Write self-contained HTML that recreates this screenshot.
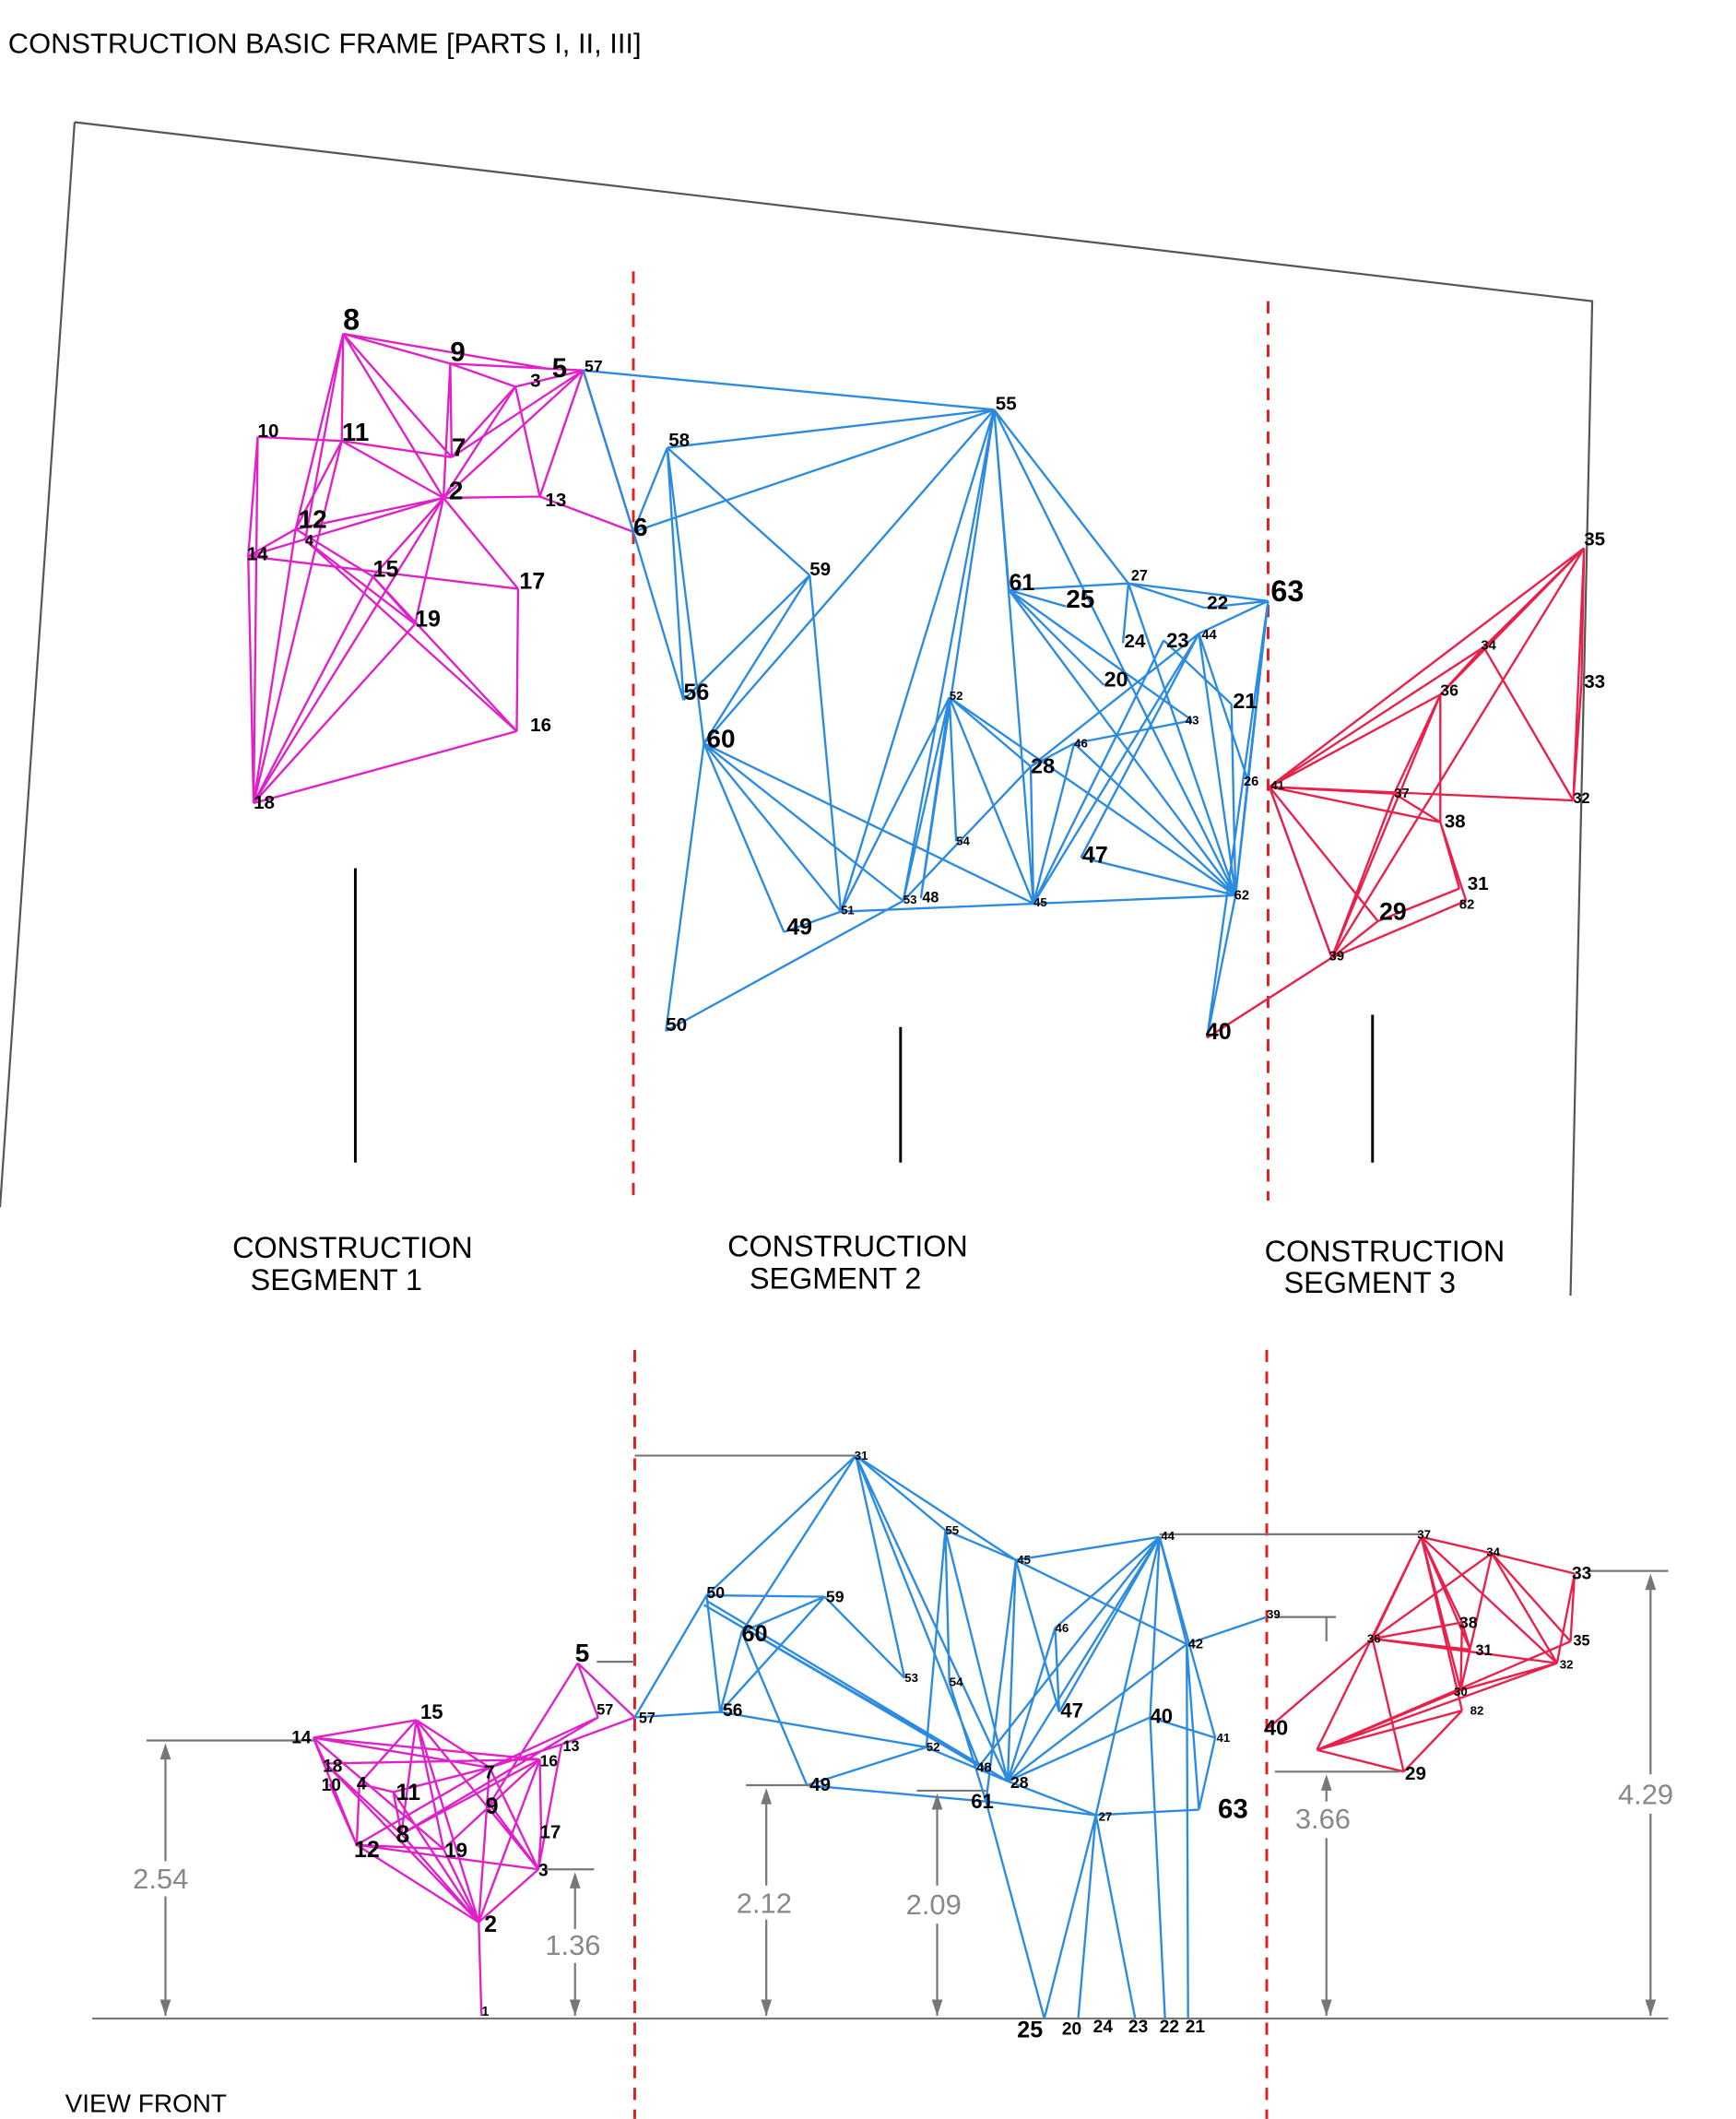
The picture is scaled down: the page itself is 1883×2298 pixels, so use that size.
<!DOCTYPE html>
<html><head><meta charset="utf-8"><style>
html,body{margin:0;padding:0;background:#fff;}
svg{display:block;}
text{font-family:"Liberation Sans",Arial,sans-serif;}
.n{font-weight:bold;fill:#000;}
.d{fill:#888;font-size:21px;}
</style></head><body>
<svg width="1883" height="2298" viewBox="0 0 1280 1562" xmlns="http://www.w3.org/2000/svg">
<text x="6" y="39" font-size="21">CONSTRUCTION  BASIC FRAME [PARTS I, II, III]</text>
<!-- frame -->
<path d="M55,90 L1174,222 L1158,955 M55,90 L0,890" fill="none" stroke="#555" stroke-width="1.5"/>
<!-- segment dividers -->
<g stroke="#e02020" stroke-width="2" stroke-dasharray="9,7">
<line x1="467" y1="200" x2="467" y2="882"/><line x1="935" y1="222" x2="935" y2="885"/>
<line x1="468" y1="995" x2="468" y2="1562"/><line x1="934" y1="995" x2="934" y2="1562"/>
</g>
<g stroke="#000" stroke-width="2"><line x1="262" y1="640" x2="262" y2="857"/><line x1="664" y1="757" x2="664" y2="857"/><line x1="1012" y1="748" x2="1012" y2="857"/></g>
<g font-size="22" text-anchor="middle">
<text x="260" y="927">CONSTRUCTION</text><text x="248" y="951">SEGMENT 1</text>
<text x="625" y="926">CONSTRUCTION</text><text x="616" y="950">SEGMENT 2</text>
<text x="1021" y="930">CONSTRUCTION</text><text x="1010" y="953">SEGMENT 3</text>
</g>
<text x="48" y="1557" font-size="19">VIEW FRONT</text>

<!-- TOP SEG1 magenta -->
<path fill="none" stroke="#e020c8" stroke-width="1.6" d="
M253,246L332,268 M253,246L252,325 M253,246L327,367 M253,246L218,390 M253,246L405,272 M253,246L225,398 M253,246L333,337
M332,268L430,273 M332,268L333,337 M332,268L327,367 M332,268L380,285
M190,322L183,410 M190,322L252,325 M190,322L187,592 M252,325L327,367 M252,325L333,337 M252,325L218,390 M252,325L187,592
M218,390L327,367 M218,390L183,410 M218,390L275,425 M218,390L187,592 M183,410L382,434 M183,410L187,592 M183,410L327,367
M275,425L306,460 M275,425L187,592 M275,425L381,539 M327,367L306,460 M327,367L187,592 M306,460L187,592 M382,434L381,539 M187,592L381,539
M327,367L398,366 M398,366L467,392 M380,285L327,367 M380,285L430,273 M430,273L327,367 M430,273L398,366 M430,273L467,392
M333,337L380,285 M333,337L430,273 M327,367L382,434 M327,367L275,425 M225,398L306,460 M225,398L381,539 M380,285L398,366"/>
<!-- TOP SEG2 blue -->
<path fill="none" stroke="#2b8be0" stroke-width="1.6" d="
M430,273L733,302 M430,273L467,392 M492,330L733,302 M492,330L467,392 M492,330L597,424 M492,330L504,516 M492,330L519,548 M467,392L733,302 M467,392L504,516
M733,302L519,548 M733,302L620,672 M733,302L666,664 M733,302L679,662 M733,302L762,666 M733,302L832,430 M733,302L911,660 M733,302L744,435
M597,424L504,516 M597,424L519,548 M597,424L620,672 M519,548L578,687 M519,548L491,760 M519,548L666,664 M519,548L762,666 M519,548L620,672 M491,760L666,664 M578,687L620,672
M666,664L700,514 M679,662L700,514 M620,672L700,514 M700,514L762,666 M700,514L911,660 M700,514L705,620 M666,664L760,565 M620,672L911,660
M762,666L792,548 M762,666L760,565 M760,565L700,514 M760,565L792,548 M760,565L884,467 M792,548L911,660 M792,548L879,531 M797,632L884,467 M797,632L911,660
M744,435L832,430 M744,435L814,505 M744,435L911,660 M744,435L879,531 M744,435L786,447 M832,430L888,448 M832,430L828,474 M832,430L911,660 M832,430L935,443
M888,448L935,443 M884,467L935,443 M884,467L762,666 M858,472L908,519 M935,443L920,575 M935,443L911,660 M935,443L890,765 M908,519L911,660 M920,575L911,660 M911,660L890,765
M936,580L982,706 M884,467L911,660 M858,472L762,666 M884,467L920,575"/>
<!-- TOP SEG3 red -->
<path fill="none" stroke="#e8204a" stroke-width="1.6" d="
M936,580L1168,404 M936,580L1094,477 M936,580L1062,512 M936,580L1160,590 M936,580L1028,585 M936,580L1062,606 M936,580L982,706 M936,580L1016,679
M1168,404L1094,477 M1168,404L1166,505 M1168,404L1160,590 M1168,404L1062,512 M1168,404L982,706 M1094,477L1062,512 M1094,477L1160,590
M1062,512L1028,585 M1062,512L1062,606 M1062,512L982,706 M1028,585L1062,606 M1062,606L1076,655 M1062,606L1081,664 M1076,655L1016,679 M1081,664L982,706 M1016,679L982,706 M982,706L890,765 M1166,505L1160,590 M1028,585L982,706"/>

<!-- BOTTOM SEG1 -->
<path fill="none" stroke="#e020c8" stroke-width="1.6" d="
M231,1281L307,1268 M231,1281L240,1300 M231,1281L263,1360 M231,1281L398,1297 M231,1281L327,1363 M231,1281L361,1303
M307,1268L265,1315 M307,1268L361,1303 M307,1268L353,1417 M307,1268L397,1378 M307,1268L296,1352 M307,1268L327,1363
M426,1226L468,1266 M426,1226L361,1330 M426,1226L441,1266 M468,1266L414,1286 M441,1266L361,1303 M441,1266L296,1352 M414,1286L397,1378 M414,1286L361,1303
M240,1300L398,1297 M240,1300L296,1352 M243,1315L263,1360 M265,1315L290,1321 M265,1315L263,1360 M290,1321L361,1303 M290,1321L296,1352 M290,1321L353,1417
M263,1360L353,1417 M263,1360L327,1363 M263,1360L397,1378 M263,1360L361,1303 M296,1352L398,1297 M296,1352L353,1417 M327,1363L398,1297 M327,1363L353,1417
M361,1303L353,1417 M361,1303L397,1378 M398,1297L399,1350 M398,1297L353,1417 M399,1350L397,1378 M397,1378L353,1417 M353,1417L355,1486 M240,1300L353,1417 M361,1330L397,1378"/>
<!-- BOTTOM SEG2 -->
<path fill="none" stroke="#2b8be0" stroke-width="1.6" d="
M468,1266L521,1176 M468,1266L531,1262 M631,1073L521,1176 M631,1073L547,1203 M631,1073L667,1237 M631,1073L722,1302 M631,1073L697,1128 M631,1073L743,1313 M631,1073L749,1150
M521,1176L608,1177 M521,1176L531,1262 M519,1183L727,1304 M521,1180L743,1313 M519,1183L722,1302 M547,1203L608,1177 M547,1203L531,1262 M547,1203L595,1316 M608,1177L531,1262 M608,1177L667,1237
M531,1262L683,1288 M595,1316L727,1328 M595,1316L683,1288 M697,1128L749,1150 M697,1128L700,1240 M697,1128L743,1313 M697,1128L683,1288 M749,1150L855,1133 M749,1150L875,1212 M749,1150L781,1262 M749,1150L727,1328
M855,1133L722,1302 M855,1133L743,1313 M855,1133L778,1200 M855,1133L848,1266 M855,1133L875,1212 M855,1133L896,1281 M855,1133L808,1338 M855,1133L781,1262
M875,1212L934,1192 M875,1212L743,1313 M875,1212L884,1334 M848,1266L896,1281 M848,1266L743,1313 M778,1200L743,1313 M778,1200L781,1262 M743,1313L808,1338 M808,1338L884,1334 M727,1328L808,1338
M727,1328L770,1488 M770,1488L808,1338 M808,1338L795,1488 M808,1338L837,1488 M848,1266L859,1488 M875,1212L876,1488 M727,1328L700,1240 M683,1288L743,1313 M749,1150L743,1313 M896,1281L884,1334"/>
<!-- BOTTOM SEG3 -->
<path fill="none" stroke="#e8204a" stroke-width="1.6" d="
M1048,1133L1100,1145 M1048,1133L1012,1208 M1048,1133L1078,1196 M1048,1133L1084,1216 M1048,1133L1077,1246 M1048,1133L971,1290 M1048,1133L1148,1226
M1100,1145L1161,1160 M1100,1145L1158,1210 M1100,1145L1148,1226 M1100,1145L1077,1246 M1100,1145L1012,1208 M1161,1160L1158,1210 M1161,1160L1148,1226
M1012,1208L1078,1196 M1012,1208L1084,1216 M1012,1208L1148,1226 M1012,1208L935,1274 M1012,1208L1035,1306 M1078,1196L1077,1246 M1078,1196L1084,1216
M1148,1226L971,1290 M1148,1226L1077,1246 M1077,1246L971,1290 M1078,1261L1035,1306 M1078,1261L971,1290 M971,1290L1035,1306 M935,1274L1012,1208 M1158,1210L971,1290 M1048,1133L1078,1261"/>

<!-- dims -->
<g stroke="#777" stroke-width="1.5" fill="none">
<line x1="68" y1="1488" x2="1230" y2="1488"/>
<line x1="108" y1="1283" x2="232" y2="1283"/><line x1="122" y1="1290" x2="122" y2="1372"/><line x1="122" y1="1398" x2="122" y2="1486"/>
<line x1="400" y1="1378" x2="438" y2="1378"/><line x1="424" y1="1385" x2="424" y2="1422"/><line x1="424" y1="1447" x2="424" y2="1486"/>
<line x1="550" y1="1316" x2="598" y2="1316"/><line x1="565" y1="1323" x2="565" y2="1390"/><line x1="565" y1="1415" x2="565" y2="1486"/>
<line x1="676" y1="1320" x2="727" y2="1320"/><line x1="691" y1="1327" x2="691" y2="1390"/><line x1="691" y1="1418" x2="691" y2="1486"/>
<line x1="940" y1="1306" x2="1032" y2="1306"/><line x1="978" y1="1313" x2="978" y2="1328"/><line x1="978" y1="1355" x2="978" y2="1486"/>
<line x1="1170" y1="1158" x2="1230" y2="1158"/><line x1="1217" y1="1165" x2="1217" y2="1308"/><line x1="1217" y1="1337" x2="1217" y2="1486"/>
<line x1="468" y1="1073" x2="631" y2="1073"/><line x1="855" y1="1131" x2="1048" y2="1131"/><line x1="440" y1="1225" x2="468" y2="1225"/>
<line x1="940" y1="1192" x2="985" y2="1192"/><line x1="978" y1="1192" x2="978" y2="1210"/>
</g>
<g fill="#777">
<path d="M122,1285l-4,12h8z M122,1486l-4,-12h8z M424,1380l-4,12h8z M424,1486l-4,-12h8z M565,1318l-4,12h8z M565,1486l-4,-12h8z M691,1322l-4,12h8z M691,1486l-4,-12h8z M978,1308l-4,12h8z M978,1486l-4,-12h8z M1217,1160l-4,12h8z M1217,1486l-4,-12h8z"/>
</g>
<text class="d" x="98" y="1392">2.54</text><text class="d" x="402" y="1441">1.36</text><text class="d" x="543" y="1410">2.12</text><text class="d" x="668" y="1411">2.09</text><text class="d" x="955" y="1348">3.66</text><text class="d" x="1193" y="1330">4.29</text>

<!-- top labels -->
<g class="n" font-size="14">
<text x="253" y="243" font-size="22">8</text><text x="332" y="266" font-size="20">9</text><text x="391" y="285">3</text><text x="407" y="278" font-size="20">5</text><text x="431" y="274" font-size="12">57</text>
<text x="190" y="322">10</text><text x="252" y="325" font-size="19">11</text><text x="333" y="336" font-size="19">7</text><text x="331" y="368" font-size="19">2</text><text x="402" y="373">13</text>
<text x="220" y="389" font-size="19">12</text><text x="225" y="402" font-size="11">4</text><text x="182" y="413">14</text><text x="275" y="425" font-size="17">15</text><text x="383" y="434" font-size="17">17</text><text x="306" y="462" font-size="17">19</text><text x="391" y="539">16</text><text x="187" y="596">18</text>
<text x="467" y="395" font-size="19">6</text><text x="734" y="302">55</text><text x="493" y="329">58</text><text x="597" y="424">59</text><text x="504" y="516" font-size="17">56</text><text x="521" y="551" font-size="19">60</text>
<text x="580" y="689" font-size="17">49</text><text x="491" y="760">50</text><text x="620" y="674" font-size="9">51</text><text x="666" y="666" font-size="9">53</text><text x="680" y="665" font-size="11">48</text><text x="700" y="516" font-size="9">52</text><text x="705" y="623" font-size="9">54</text>
<text x="760" y="570" font-size="16">28</text><text x="792" y="551" font-size="9">46</text><text x="798" y="636" font-size="17">47</text><text x="762" y="668" font-size="9">45</text>
<text x="744" y="435" font-size="17">61</text><text x="786" y="448" font-size="19">25</text><text x="834" y="428" font-size="11">27</text><text x="890" y="449">22</text><text x="829" y="477">24</text><text x="860" y="477" font-size="15">23</text><text x="886" y="471" font-size="10">44</text>
<text x="814" y="506" font-size="16">20</text><text x="874" y="534" font-size="9">43</text><text x="909" y="522" font-size="16">21</text><text x="937" y="443" font-size="22">63</text><text x="917" y="579" font-size="10">26</text><text x="910" y="663" font-size="10">62</text><text x="889" y="766" font-size="17">40</text>
<text x="937" y="582" font-size="9">41</text><text x="1168" y="402">35</text><text x="1092" y="479" font-size="10">34</text><text x="1062" y="513" font-size="12">36</text><text x="1168" y="507">33</text><text x="1028" y="588" font-size="10">37</text><text x="1160" y="592" font-size="11">32</text>
<text x="1065" y="610">38</text><text x="1082" y="656">31</text><text x="1076" y="670" font-size="10">82</text><text x="1017" y="678" font-size="18">29</text><text x="980" y="708" font-size="10">39</text>
</g>
<!-- bottom labels -->
<g class="n" font-size="13">
<text x="215" y="1285">14</text><text x="310" y="1267" font-size="15">15</text><text x="424" y="1225" font-size="19">5</text><text x="440" y="1264" font-size="11">57</text><text x="415" y="1291" font-size="11">13</text><text x="398" y="1302" font-size="12">16</text>
<text x="357" y="1311" font-size="14">7</text><text x="238" y="1306">18</text><text x="237" y="1320">10</text><text x="263" y="1319">4</text><text x="292" y="1327" font-size="17">11</text><text x="358" y="1337" font-size="17">9</text>
<text x="292" y="1358" font-size="18">8</text><text x="261" y="1369" font-size="17">12</text><text x="328" y="1369" font-size="15">19</text><text x="398" y="1355" font-size="14">17</text><text x="397" y="1383">3</text><text x="357" y="1424" font-size="17">2</text><text x="355" y="1486" font-size="10">1</text>
<text x="471" y="1270" font-size="11">57</text><text x="630" y="1076" font-size="9">31</text><text x="521" y="1178" font-size="12">50</text><text x="547" y="1210" font-size="17">60</text><text x="609" y="1181" font-size="12">59</text><text x="533" y="1265" font-size="13">56</text><text x="597" y="1320" font-size="14">49</text>
<text x="697" y="1131" font-size="9">55</text><text x="667" y="1240" font-size="9">53</text><text x="700" y="1243" font-size="9">54</text><text x="683" y="1291" font-size="9">52</text><text x="856" y="1135" font-size="9">44</text><text x="750" y="1153" font-size="9">45</text><text x="778" y="1203" font-size="9">46</text>
<text x="876" y="1215" font-size="10">42</text><text x="782" y="1266" font-size="15">47</text><text x="848" y="1270" font-size="15">40</text><text x="897" y="1284" font-size="9">41</text><text x="934" y="1193" font-size="9">39</text><text x="720" y="1306" font-size="10">48</text><text x="745" y="1318" font-size="12">28</text>
<text x="716" y="1333" font-size="15">61</text><text x="810" y="1342" font-size="9">27</text><text x="898" y="1340" font-size="20">63</text>
<text x="750" y="1502" font-size="17">25</text><text x="783" y="1500">20</text><text x="806" y="1498">24</text><text x="832" y="1498">23</text><text x="855" y="1498">22</text><text x="874" y="1498">21</text>
<text x="1045" y="1134" font-size="9">37</text><text x="1096" y="1147" font-size="9">34</text><text x="1159" y="1164">33</text><text x="1008" y="1211" font-size="9">36</text><text x="1076" y="1200" font-size="12">38</text><text x="1088" y="1220" font-size="11">31</text><text x="1160" y="1213" font-size="11">35</text><text x="1150" y="1230" font-size="9">32</text>
<text x="1072" y="1250" font-size="9">30</text><text x="1084" y="1264" font-size="9">82</text><text x="932" y="1279" font-size="16">40</text><text x="1036" y="1312" font-size="14">29</text>
</g>
</svg>
</body></html>
